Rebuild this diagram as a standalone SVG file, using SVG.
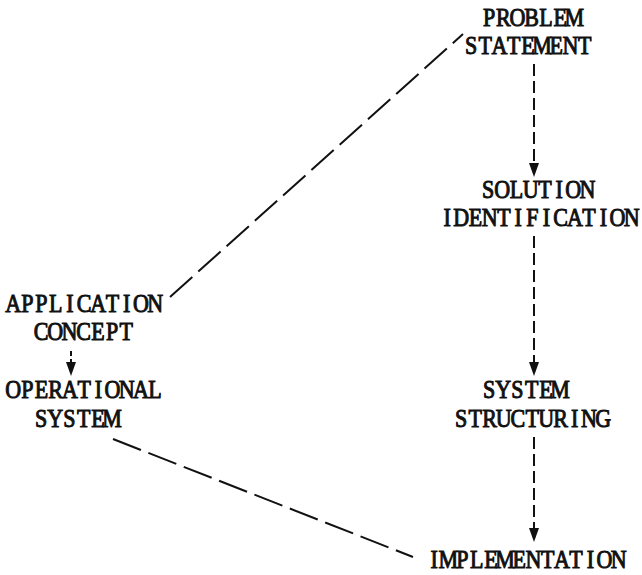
<svg xmlns="http://www.w3.org/2000/svg" width="642" height="575" viewBox="0 0 642 575">
<defs>
<style>
text{font-family:"Liberation Serif","Times New Roman",serif;font-size:25px;fill:#111;stroke:#111;stroke-width:1;text-anchor:middle}
.c{fill:none;stroke:#111;stroke-width:2}
.v{stroke-dasharray:12 5}
.d{stroke-dasharray:30 8}
.h{fill:#111}
</style>
</defs>
<rect width="642" height="575" fill="#fff"/>
<g id="connectors">
<line class="c v" x1="534" y1="64" x2="534" y2="163"/>
<path class="h" d="M529,163 L539,163 L534,177 Z"/>
<line class="c v" x1="534" y1="236" x2="534" y2="362"/>
<path class="h" d="M529,362 L539,362 L534,376 Z"/>
<line class="c v" x1="534" y1="437" x2="534" y2="528"/>
<path class="h" d="M529,528 L539,528 L534,542 Z"/>
<line class="c" x1="71" y1="351" x2="71" y2="362" stroke-dasharray="5 3"/>
<path class="h" d="M66,362 L76,362 L71,376 Z"/>
<line class="c d" x1="170" y1="297" x2="463" y2="34"/>
<line class="c d" x1="113" y1="439" x2="413" y2="557" stroke-dasharray="26 9"/>
</g>
<g id="problem-statement">
<g transform="translate(482,26) scale(0.88,1)"><text x="8.07 24.2 40.34 56.48 72.61 88.75 104.89" y="0">PROBLEM</text></g>
<g transform="translate(464,54) scale(0.88,1)"><text x="8.07 24.2 40.34 56.48 72.61 88.75 104.89 121.02 137.16" y="0">STATEMENT</text></g>
</g>
<g id="solution-identification">
<g transform="translate(481,198) scale(0.88,1)"><text x="8.07 24.2 40.34 56.48 72.61 88.75 104.89 121.02" y="0">SOLUTION</text></g>
<g transform="translate(440,226) scale(0.88,1)"><text x="8.07 24.2 40.34 56.48 72.61 88.75 104.89 121.02 137.16 153.3 169.43 185.57 201.7 217.84" y="0">IDENTIFICATION</text></g>
</g>
<g id="system-structuring">
<g transform="translate(482,398) scale(0.88,1)"><text x="8.07 24.2 40.34 56.48 72.61 88.75" y="0">SYSTEM</text></g>
<g transform="translate(454,427) scale(0.88,1)"><text x="8.07 24.2 40.34 56.48 72.61 88.75 104.89 121.02 137.16 153.3 169.43" y="0">STRUCTURING</text></g>
</g>
<g id="implementation">
<g transform="translate(427,568) scale(0.88,1)"><text x="8.07 24.2 40.34 56.48 72.61 88.75 104.89 121.02 137.16 153.3 169.43 185.57 201.7 217.84" y="0">IMPLEMENTATION</text></g>
</g>
<g id="application-concept">
<g transform="translate(6,312) scale(0.88,1)"><text x="8.07 24.2 40.34 56.48 72.61 88.75 104.89 121.02 137.16 153.3 169.43" y="0">APPLICATION</text></g>
<g transform="translate(34,340) scale(0.88,1)"><text x="8.07 24.2 40.34 56.48 72.61 88.75 104.89" y="0">CONCEPT</text></g>
</g>
<g id="operational-system">
<g transform="translate(6,398) scale(0.88,1)"><text x="8.07 24.2 40.34 56.48 72.61 88.75 104.89 121.02 137.16 153.3 169.43" y="0">OPERATIONAL</text></g>
<g transform="translate(34,427) scale(0.88,1)"><text x="8.07 24.2 40.34 56.48 72.61 88.75" y="0">SYSTEM</text></g>
</g>
</svg>
